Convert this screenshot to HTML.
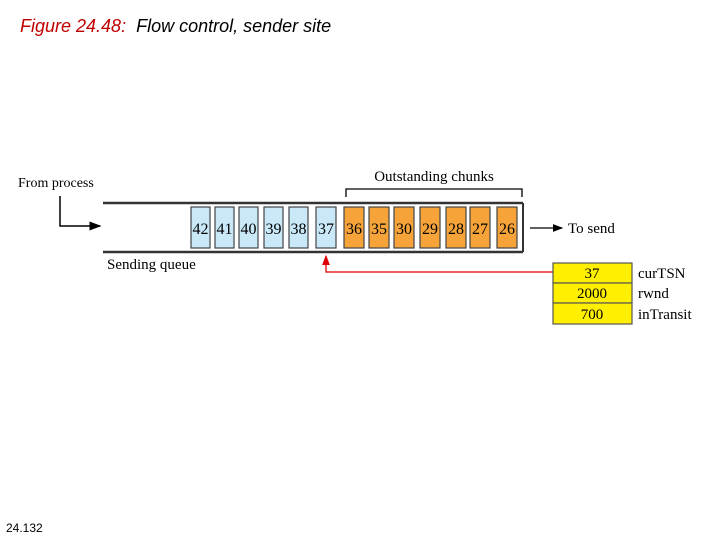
<!DOCTYPE html>
<html><head><meta charset="utf-8"><style>
body{margin:0;background:#fff;width:720px;height:540px;overflow:hidden;position:relative}
</style></head><body>
<div style="position:absolute;left:20px;top:16px;font:italic 18px 'Liberation Sans',sans-serif;color:#000"><span style="color:#c00000">Figure 24.48:</span>&nbsp; Flow control, sender site</div>
<div style="position:absolute;left:6px;top:521px;font:12px 'Liberation Sans',sans-serif">24.132</div>
<svg width="720" height="540" style="position:absolute;left:0;top:0" font-family="Liberation Serif" font-size="15">
<defs><marker id="a" markerWidth="8" markerHeight="6" refX="7" refY="3" orient="auto"><path d="M0,0L8,3L0,6z" fill="#000"/></marker>
<marker id="r" markerWidth="8" markerHeight="6" refX="7" refY="3" orient="auto"><path d="M0,0L8,3L0,6z" fill="#d00"/></marker></defs>
<text x="18" y="187" font-size="14">From process</text>
<polyline points="60,196 60,226 100,226" fill="none" stroke="#000" stroke-width="1.5" marker-end="url(#a)"/>
<line x1="103" y1="203" x2="523" y2="203" stroke="#333" stroke-width="2.5"/>
<line x1="103" y1="252" x2="523" y2="252" stroke="#333" stroke-width="2.5"/>
<line x1="523" y1="203" x2="523" y2="252" stroke="#333" stroke-width="2"/>
<text x="107" y="269" font-size="15">Sending queue</text>
<polyline points="346,197 346,189 522,189 522,197" fill="none" stroke="#000" stroke-width="1.3"/>
<text x="434" y="181" text-anchor="middle" font-size="15">Outstanding chunks</text>
<g stroke="#444" stroke-width="1.2" font-size="16" text-anchor="middle">
<rect x="191" y="207" width="19" height="41" fill="#c9e8f8"/><text x="200.5" y="234" stroke="none">42</text>
<rect x="215" y="207" width="19" height="41" fill="#c9e8f8"/><text x="224.5" y="234" stroke="none">41</text>
<rect x="239" y="207" width="19" height="41" fill="#c9e8f8"/><text x="248.5" y="234" stroke="none">40</text>
<rect x="264" y="207" width="19" height="41" fill="#c9e8f8"/><text x="273.5" y="234" stroke="none">39</text>
<rect x="289" y="207" width="19" height="41" fill="#c9e8f8"/><text x="298.5" y="234" stroke="none">38</text>
<rect x="316" y="207" width="20" height="41" fill="#c9e8f8"/><text x="326" y="234" stroke="none">37</text>
<rect x="344" y="207" width="20" height="41" fill="#f6a43a"/><text x="354" y="234" stroke="none">36</text>
<rect x="369" y="207" width="20" height="41" fill="#f6a43a"/><text x="379" y="234" stroke="none">35</text>
<rect x="394" y="207" width="20" height="41" fill="#f6a43a"/><text x="404" y="234" stroke="none">30</text>
<rect x="420" y="207" width="20" height="41" fill="#f6a43a"/><text x="430" y="234" stroke="none">29</text>
<rect x="446" y="207" width="20" height="41" fill="#f6a43a"/><text x="456" y="234" stroke="none">28</text>
<rect x="470" y="207" width="20" height="41" fill="#f6a43a"/><text x="480" y="234" stroke="none">27</text>
<rect x="497" y="207" width="20" height="41" fill="#f6a43a"/><text x="507" y="234" stroke="none">26</text>
</g>
<line x1="530" y1="228" x2="562" y2="228" stroke="#000" stroke-width="1.3" marker-end="url(#a)"/>
<text x="568" y="233" font-size="15">To send</text>
<polyline points="553,272 326,272 326,256" fill="none" stroke="#d00" stroke-width="1.3" marker-end="url(#r)"/>
<g stroke="#555" stroke-width="1.2" fill="#ffef00">
<rect x="553" y="263" width="79" height="20"/><rect x="553" y="283" width="79" height="20"/><rect x="553" y="303" width="79" height="21"/></g>
<g text-anchor="middle" font-size="15"><text x="592" y="278">37</text><text x="592" y="298">2000</text><text x="592" y="319">700</text></g>
<g font-size="15"><text x="638" y="278">curTSN</text><text x="638" y="298">rwnd</text><text x="638" y="319">inTransit</text></g>
</svg>
</body></html>
